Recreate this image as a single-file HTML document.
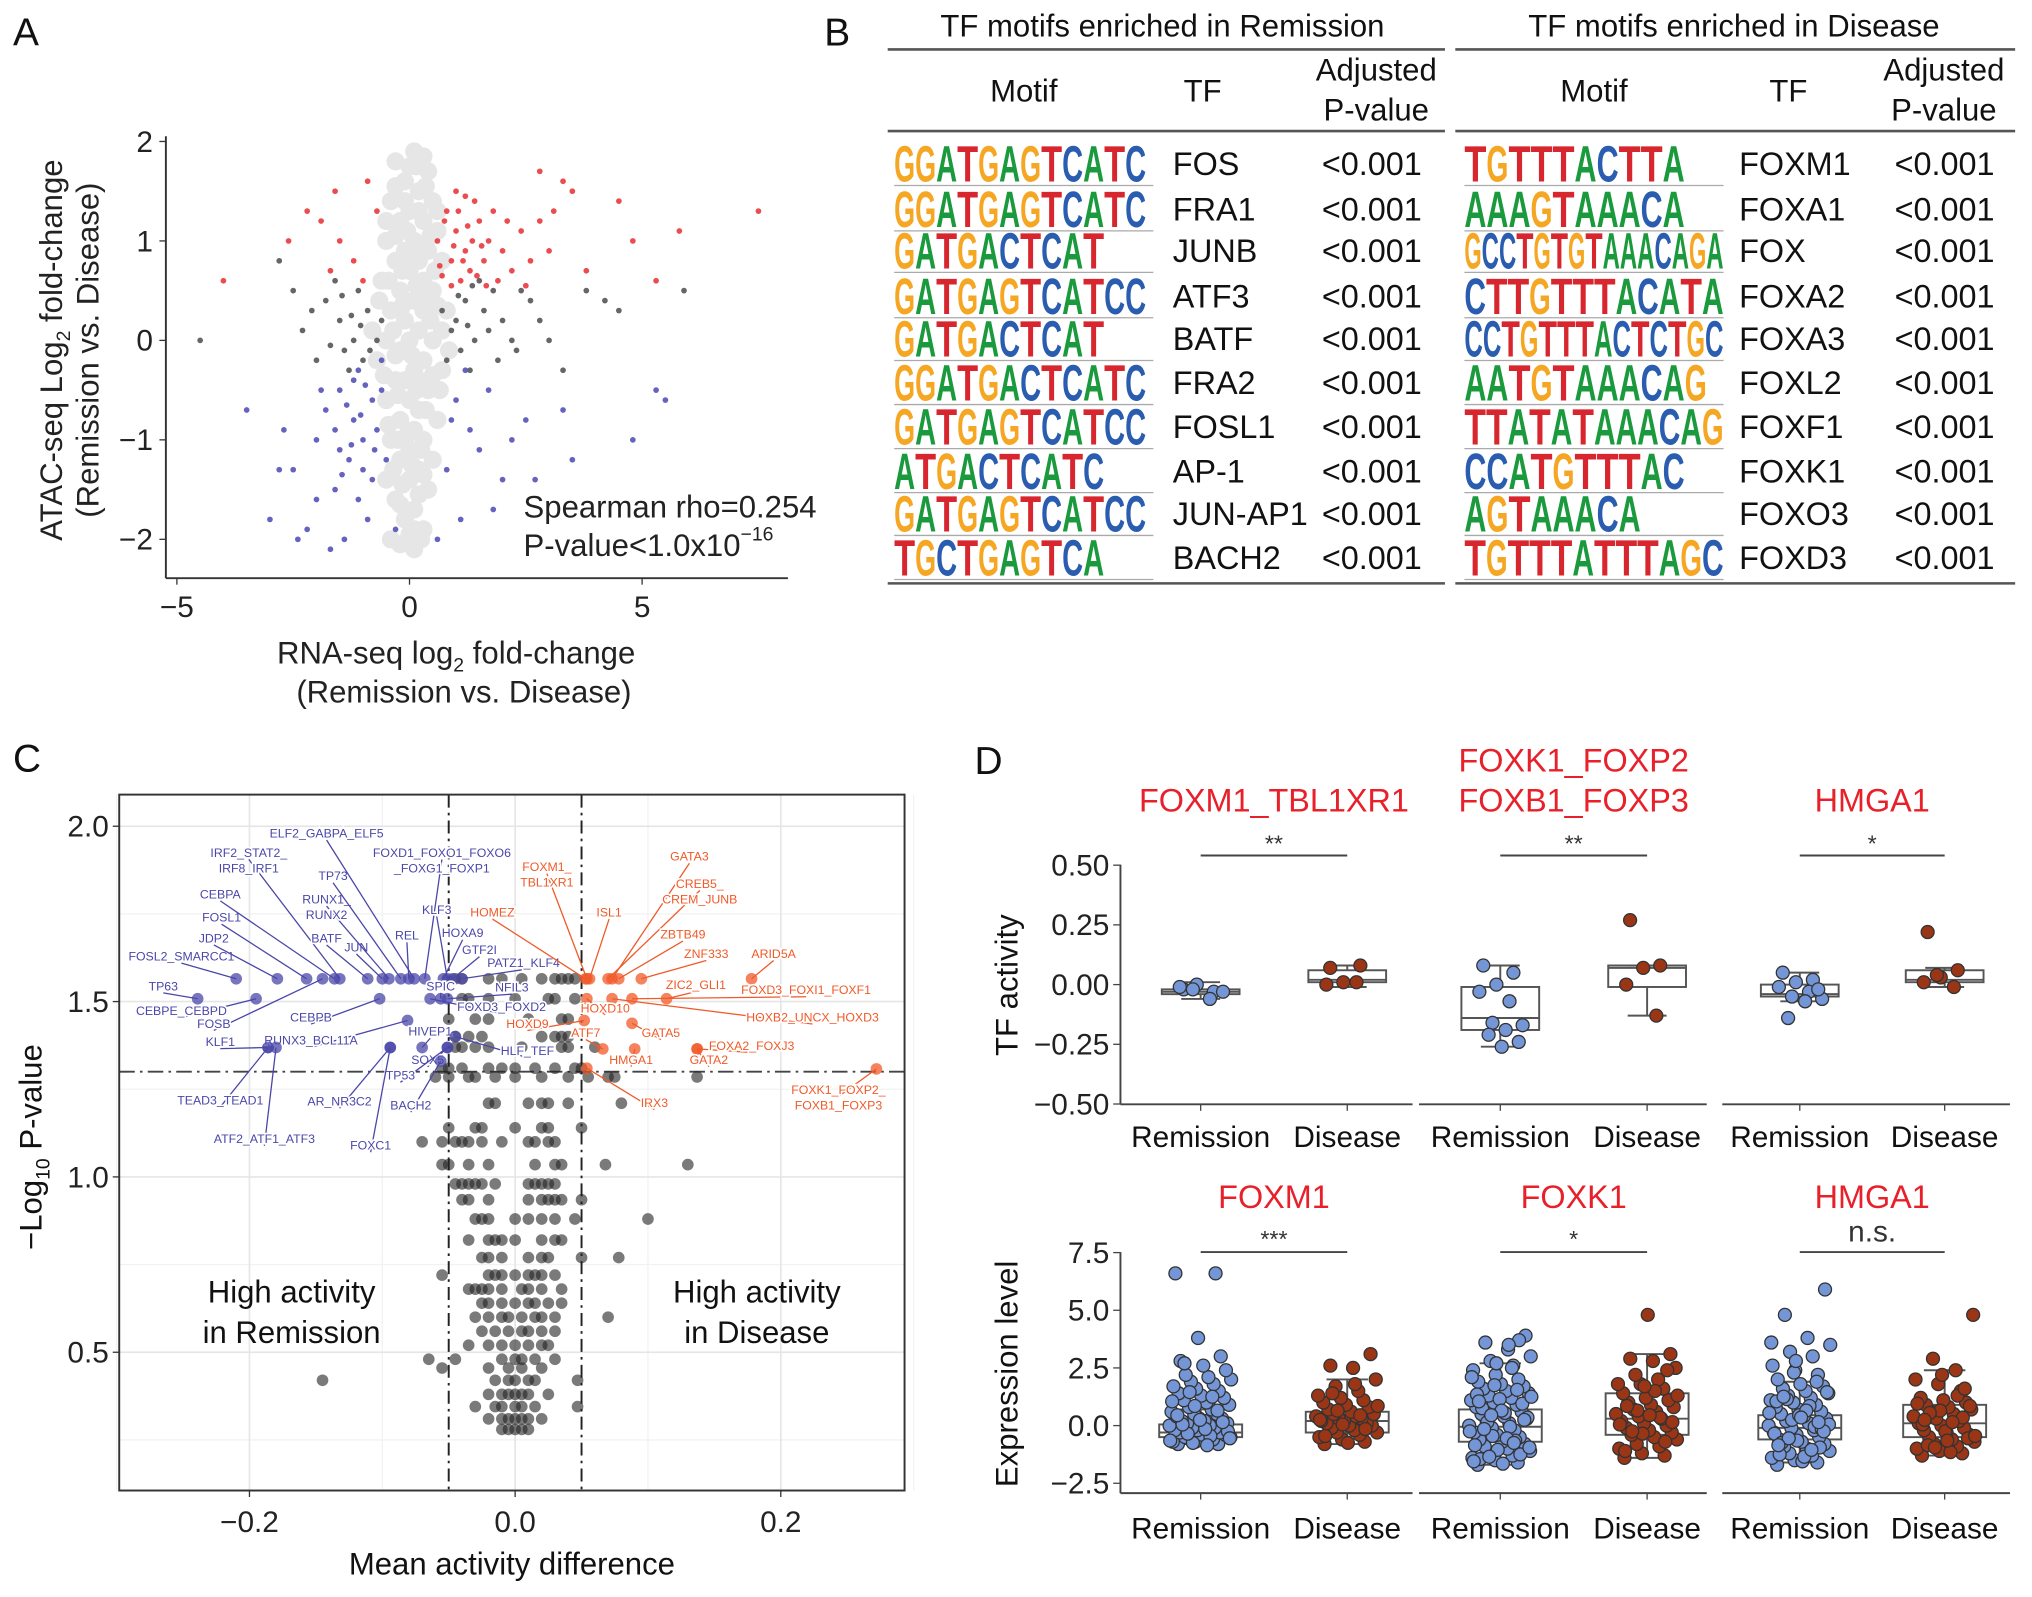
<!DOCTYPE html>
<html><head><meta charset="utf-8"><style>
html,body{margin:0;padding:0;background:#fff;}
svg{display:block;font-family:"Liberation Sans",Arial,sans-serif;}
</style></head><body>
<svg id="fig" width="2032" height="1597" viewBox="0 0 1568 1232" xmlns="http://www.w3.org/2000/svg">
<g font-size="30" fill="#111">
<text x="10" y="35">A</text>
<text x="636" y="35">B</text>
<text x="10" y="595">C</text>
<text x="752" y="597">D</text>
</g>
<g id="pa"></g>
<g id="pb"></g>
<g id="pc"></g>
<g id="pd"></g>
</svg>
<script>
// ---------- Panel A data ----------
const aRed=[[0.8,1.3],[1.0,1.1],[1.2,0.9],[1.5,1.2],[1.3,0.7],[0.9,0.8],[1.7,1.0],[2.0,0.9],[1.1,0.6],[0.7,0.65],[1.4,1.4],[1.8,1.3],[2.4,1.1],[2.8,1.2],[3.0,0.9],[3.5,1.5],[4.8,1.0],[5.8,1.1],[7.5,1.3],[3.3,1.6],[2.8,1.7],[1.0,1.5],[0.6,1.0],[1.6,0.8],[2.2,0.7],[0.9,0.55],[1.25,1.15],[1.55,0.95],[1.9,0.6],[2.6,0.8],[4.5,1.4],[3.8,0.7],[5.3,0.6],[-1.5,1.0],[-1.7,0.7],[-2.6,1.0],[-1.6,1.5],[-4,0.6],[-1.2,0.8],[-1.9,1.2],[-0.7,1.3],[-1.0,0.6],[-2.2,1.3],[-0.9,1.6],[1.15,0.8],[1.45,0.65],[0.75,1.2],[1.05,1.3],[1.35,1.0],[0.95,0.95],[1.65,0.55],[2.1,1.2],[3.1,1.3],[0.65,0.75],[1.2,1.45],[2.5,0.55]];
const aBlue=[[-1.5,-0.5],[-1.2,-0.8],[-1.0,-1.0],[-1.3,-1.2],[-0.8,-0.6],[-1.6,-1.5],[-2.0,-1.0],[-2.5,-1.3],[-1.1,-1.6],[-0.7,-0.9],[-0.9,-1.8],[-1.4,-2.0],[-2.2,-1.9],[-3.0,-1.8],[-3.5,-0.7],[-2.7,-0.9],[-1.8,-0.7],[-1.2,-0.4],[-0.6,-0.5],[-1.0,-1.3],[-1.5,-1.1],[-2.0,-1.6],[-2.4,-2.0],[-1.7,-2.1],[-0.5,-1.2],[-0.8,-1.4],[-1.1,-0.3],[-1.9,-0.5],[1.0,-0.6],[1.3,-0.9],[1.5,-1.1],[0.8,-1.3],[1.1,-1.8],[2.0,-1.4],[2.7,-1.4],[3.3,-0.7],[4.8,-1.0],[5.3,-0.5],[5.5,-0.6],[0.6,-2.0],[1.7,-0.5],[2.2,-1.0],[-0.3,-1.9],[-1.35,-0.65],[-1.05,-0.75],[-0.95,-0.45],[-1.25,-1.05],[-1.45,-1.35],[-0.75,-1.1],[1.2,-0.3],[0.9,-0.8],[1.8,-1.7],[-2.8,-1.3],[-1.6,-0.9],[-0.6,-0.2],[3.5,-1.2],[2.5,-0.8]];
const aDark=[[-1.5,0.2],[-1.2,0.0],[-1.0,-0.2],[-1.8,0.4],[-0.9,0.3],[-1.4,-0.1],[-2.0,-0.2],[-2.5,0.5],[-2.3,0.1],[-0.7,0.0],[-1.6,0.6],[-1.1,0.5],[-1.3,-0.3],[-2.8,0.8],[-4.5,0.0],[1.0,0.2],[1.2,0.4],[1.4,0.0],[1.6,0.3],[1.8,0.5],[1.1,-0.1],[0.9,0.1],[2.0,0.2],[2.3,-0.1],[2.6,0.4],[3.0,0.0],[1.3,-0.3],[1.5,0.6],[0.8,-0.2],[1.9,-0.2],[2.4,0.5],[3.8,0.5],[4.2,0.4],[4.5,0.3],[5.9,0.5],[2.8,0.2],[1.25,0.15],[1.05,0.45],[1.7,0.1],[-1.05,0.15],[-1.25,0.25],[-0.85,-0.1],[-1.7,-0.05],[-1.45,0.45],[-2.1,0.3],[0.7,0.3],[1.35,0.55],[2.2,0.0],[-0.6,0.2],[3.3,-0.3]];
const aGray=[[-0.3,1.8],[0.1,1.9],[0.4,1.7],[-0.1,1.6],[0.2,1.5],[-0.4,1.4],[0.5,1.4],[0,1.3],[-0.2,1.2],[0.3,1.2],[0.6,1.1],[-0.5,1.0],[0.1,1.0],[-0.1,0.9],[0.4,0.9],[-0.3,0.8],[0.2,0.8],[0.7,0.8],[0,0.7],[-0.6,0.6],[0.3,0.6],[-0.2,0.5],[0.5,0.5],[0.1,0.4],[-0.4,0.3],[0.3,0.3],[0.8,0.3],[-0.1,0.2],[0.2,0.1],[-0.5,0.0],[0,0.0],[0.5,0.0],[-0.2,-0.1],[0.3,-0.2],[-0.7,-0.2],[0.1,-0.3],[0.7,-0.3],[-0.3,-0.4],[0.4,-0.5],[0,-0.6],[-0.5,-0.6],[0.2,-0.7],[-0.2,-0.8],[0.6,-0.8],[0.1,-0.9],[-0.4,-1.0],[0.3,-1.0],[0,-1.1],[-0.2,-1.2],[0.5,-1.2],[0.2,-1.3],[-0.5,-1.4],[0,-1.4],[0.4,-1.5],[-0.3,-1.6],[0.1,-1.7],[-0.1,-1.8],[0.3,-1.9],[-0.4,-2.0],[0.1,-2.1],[-0.15,0.35],[0.15,0.55],[0.05,-0.15],[-0.05,1.1],[0.25,-1.1],[-0.25,-0.55],[0.35,1.55],[-0.35,0.1],[0.45,0.2],[-0.45,-0.85],[0.55,0.7],[0.65,-0.5],[-0.65,0.4],[0.15,1.75],[-0.15,-1.45],[0.05,0.85],[0.35,-0.7],[-0.05,-0.95],[0.25,0.95],[-0.3,1.55],[0.7,0.1],[0.85,-0.1],[-0.8,0.1],[0.0,-1.95],[0.2,-0.4],[-0.1,1.4],[0.2,1.3],[-0.3,1.05],[0.45,1.05],[-0.15,0.7],[0.35,0.45],[-0.45,0.6],[0.6,0.35],[-0.3,-0.15],[0.15,-0.5],[-0.1,-0.4],[0.5,-0.35],[-0.55,-0.35],[0.3,-1.35],[-0.25,-1.0],[0.05,-1.25],[-0.35,-1.3],[0.2,-1.55],[-0.2,-1.65],[0.1,-1.9],[-0.2,-2.05],[0.25,-2.0],[0.6,1.3],[-0.5,1.2],[0.0,1.75],[0.3,1.85]];
const aXTicks=[-5,0,5];
const aYTicks=[-2,-1,0,1,2];

// ---------- Panel C data ----------
const cBlackY=[1.565,1.508,1.45,1.40,1.37,1.31,1.285,1.21,1.14,1.10,1.035,0.98,0.935,0.88,0.82,0.77,0.72,0.68,0.64,0.6,0.56,0.52,0.48,0.455,0.42,0.38,0.345,0.31,0.28];
const cBlackX=[[-0.045,-0.04,-0.02,-0.01,0.005,0.02,0.03,0.035,0.04,0.045],[-0.04,-0.035,-0.02,0.0,0.025,0.03,0.045],[-0.05,-0.03,-0.02,0.01,0.035,0.04],[-0.045,-0.035,-0.025,0.02,0.03,0.035,0.04],[-0.045,-0.04,-0.03,-0.02,0.005,0.035,0.04,0.06],[-0.055,-0.05,-0.04,-0.02,-0.01,0.0,0.015,0.03,0.045,0.05],[-0.06,-0.05,-0.035,-0.03,-0.015,0.0,0.02,0.04,0.055,0.07,0.075,0.137],[-0.02,-0.015,0.01,0.02,0.025,0.04,0.08],[-0.05,-0.03,-0.025,0.0,0.02,0.025,0.05],[-0.07,-0.055,-0.045,-0.04,-0.035,-0.025,-0.01,0.01,0.015,0.025,0.03],[-0.055,-0.05,-0.035,-0.02,0.015,0.03,0.035,0.068,0.13],[-0.045,-0.04,-0.035,-0.03,-0.025,-0.015,0.01,0.015,0.02,0.025,0.03],[-0.04,-0.035,-0.02,0.01,0.02,0.025,0.03,0.035,0.05],[-0.03,-0.025,-0.02,0.0,0.01,0.02,0.03,0.045,0.1],[-0.035,-0.02,-0.015,-0.01,0.0,0.02,0.03,0.035],[-0.025,-0.02,-0.01,0.01,0.02,0.025,0.05,0.078],[-0.055,-0.02,-0.015,-0.01,0.0,0.01,0.015,0.02,0.03],[-0.035,-0.03,-0.025,-0.02,-0.01,0.005,0.01,0.02,0.035],[-0.025,-0.02,-0.01,0.0,0.01,0.015,0.025,0.035],[-0.03,-0.02,-0.01,-0.005,0.005,0.015,0.02,0.03,0.07],[-0.025,-0.015,-0.005,0.005,0.01,0.02,0.03],[-0.035,-0.02,-0.01,0.0,0.01,0.02,0.025],[-0.065,-0.045,-0.01,0.0,0.005,0.015,0.03],[-0.055,-0.02,-0.005,0.005,0.02],[-0.145,-0.015,-0.005,0.0,0.01,0.015,0.047],[-0.02,-0.01,-0.005,0.0,0.005,0.01,0.025],[-0.03,-0.015,-0.01,0.0,0.005,0.015,0.047],[-0.02,-0.01,-0.005,0.0,0.005,0.01,0.02],[-0.01,-0.005,0.0,0.005,0.01]];
const cBlueNames=["FOSL2_SMARCC1","TP63","JDP2","CEBPE_CEBPD","FOSL1","FOSB","KLF1","CEBPA","IRF2_STAT2_ IRF8_IRF1","BATF","JUN","RUNX1_ RUNX2","TP73","CEBPB","RUNX3_BCL11A","ELF2_GABPA_ELF5","FOXD1_FOXO1_FOXO6 _FOXG1_FOXP1","REL","FOXD3_FOXD2","HIVEP1","AR_NR3C2","SOX5","TP53","KLF3","HOXA9","GTF2I","PATZ1_KLF4","SPIC","NFIL3","BACH2","TEAD3_TEAD1","ATF2_ATF1_ATF3","FOXC1","HLF_TEF"];
const cBlueX=[-0.210,-0.239,-0.179,-0.195,-0.157,-0.145,-0.186,-0.136,-0.132,-0.111,-0.100,-0.095,-0.086,-0.102,-0.081,-0.076,-0.068,-0.08,-0.064,-0.070,-0.094,-0.051,-0.051,-0.051,-0.054,-0.047,-0.040,-0.056,-0.051,-0.056,-0.186,-0.18,-0.094,-0.045];
const cBlueY=[1.565,1.508,1.565,1.508,1.565,1.565,1.369,1.565,1.565,1.565,1.565,1.565,1.565,1.508,1.446,1.565,1.565,1.565,1.508,1.369,1.369,1.369,1.369,1.565,1.565,1.565,1.565,1.508,1.508,1.33,1.369,1.369,1.369,1.40];
const cRedNames=["HOMEZ","FOXM1_ TBL1XR1","ISL1","GATA3","CREB5_ CREM_JUNB","ZBTB49","ZNF333","ARID5A","ZIC2_GLI1","FOXD3_FOXI1_FOXF1","HOXB2_UNCX_HOXD3","HOXD10","HOXD9","GATA5","ATF7","FOXA2_FOXJ3","HMGA1","GATA2","IRX3","FOXK1_FOXP2_ FOXB1_FOXP3"];
const cRedX=[0.053,0.054,0.056,0.073,0.070,0.078,0.095,0.178,0.114,0.088,0.073,0.054,0.052,0.088,0.066,0.137,0.090,0.137,0.054,0.272];
const cRedY=[1.565,1.565,1.565,1.565,1.565,1.565,1.565,1.565,1.508,1.508,1.508,1.508,1.446,1.438,1.365,1.365,1.365,1.365,1.31,1.308];
const cXTicks=[-0.2,0.0,0.2];
const cYTicks=[0.5,1.0,1.5,2.0];

// ---------- Panel D data ----------
const dTitlesTop=["FOXM1_TBL1XR1","FOXK1_FOXP2 FOXB1_FOXP3","HMGA1"];
const dTitlesBot=["FOXM1","FOXK1","HMGA1"];
const dSigTop=["**","**","*"];
const dSigBot=["***","*","n.s."];
const dTopBox=[[[-0.04,-0.03,-0.02,-0.06,0.01],[0.01,0.02,0.06,-0.01,0.08]],[[-0.19,-0.14,-0.01,-0.26,0.08],[-0.01,0.07,0.08,-0.13,0.08]],[[-0.05,-0.04,0.0,-0.07,0.05],[0.01,0.02,0.06,-0.01,0.07]]];
const dTopPts=[[[-0.02,-0.03,0.0,-0.01,-0.06,-0.02,-0.03],[0.07,0.08,0.01,0.0,0.01]],[[0.08,0.05,0.0,-0.03,-0.07,-0.16,-0.17,-0.19,-0.21,-0.24,-0.26],[0.27,0.08,0.07,0.0,-0.13]],[[0.05,0.02,0.01,-0.01,-0.03,-0.05,-0.06,-0.07,-0.14,-0.02],[0.22,0.06,0.03,0.01,-0.01,0.04]]];
const dBotBox=[[[-0.5,-0.3,0.05,-0.8,0.7],[-0.3,0.2,0.6,-0.8,2.0]],[[-0.7,-0.05,0.7,-1.7,2.7],[-0.4,0.3,1.4,-1.4,3.1]],[[-0.6,-0.1,0.45,-1.6,1.9],[-0.5,0.1,0.9,-1.3,2.4]]];
const expFoxm1Rem=[-0.8,-0.8,-0.7,-0.7,-0.6,-0.6,-0.5,-0.5,-0.5,-0.4,-0.4,-0.3,-0.3,-0.2,-0.2,-0.1,-0.1,0,0,0.1,0.1,0.2,0.2,0.3,0.3,0.4,0.5,0.5,0.6,0.7,0.8,0.9,1.0,1.1,1.2,1.3,1.4,1.5,1.6,1.7,1.8,1.9,2.0,2.1,2.2,2.4,2.6,2.8,3.0,3.8,6.6,6.6,-0.75,-0.65,-0.45,-0.35,-0.25,-0.15,0.05,0.15,0.25,0.45,0.65,0.85,1.05,1.25,1.45,-0.55,-0.85,2.7];
const expFoxm1Dis=[-0.8,-0.7,-0.6,-0.5,-0.4,-0.3,-0.3,-0.2,-0.1,0,0,0.1,0.1,0.2,0.2,0.3,0.3,0.4,0.4,0.5,0.5,0.6,0.7,0.8,0.9,1.0,1.1,1.2,1.3,1.5,1.7,2.0,2.5,2.6,3.1,-0.75,-0.45,-0.15,0.05,0.25,0.45,0.65,0.85,1.8,1.4];
const expFoxk1Rem=[-1.7,-1.6,-1.5,-1.4,-1.3,-1.2,-1.1,-1.0,-0.9,-0.8,-0.7,-0.6,-0.5,-0.4,-0.3,-0.2,-0.1,0,0.1,0.2,0.3,0.4,0.5,0.6,0.7,0.8,0.9,1.0,1.1,1.2,1.3,1.4,1.5,1.6,1.7,1.8,1.9,2.0,2.2,2.4,2.6,2.8,3.0,3.3,3.6,3.9,-1.65,-1.45,-1.25,-1.05,-0.85,-0.65,-0.45,-0.25,-0.05,0.15,0.35,0.55,0.75,0.95,1.15,1.35,1.55,1.75,2.1,2.5,-1.35,-0.95,-0.55,-0.15,0.25,0.65,1.05,3.7,2.7,-1.55,-0.75,0.45,1.25,3.5];
const expFoxk1Dis=[-1.4,-1.3,-1.2,-1.0,-0.9,-0.8,-0.6,-0.5,-0.4,-0.3,-0.2,-0.1,0,0.1,0.2,0.3,0.4,0.5,0.6,0.7,0.8,0.9,1.0,1.1,1.2,1.4,1.6,1.8,1.8,2.0,2.2,2.5,2.8,2.9,3.1,4.8,-1.1,-0.7,-0.35,0.05,0.35,0.65,1.3,1.5,-0.25,0.15,0.45,0.85,2.4,1.7];
const expHmga1Rem=[-1.7,-1.6,-1.5,-1.4,-1.3,-1.2,-1.1,-1.0,-0.9,-0.8,-0.7,-0.6,-0.5,-0.4,-0.3,-0.2,-0.1,0,0.1,0.2,0.3,0.4,0.5,0.6,0.7,0.8,0.9,1.0,1.1,1.2,1.3,1.4,1.5,1.6,1.7,1.8,2.0,2.2,2.4,2.6,3.0,3.2,3.5,3.8,4.8,5.9,-1.55,-1.25,-0.95,-0.65,-0.35,-0.05,0.25,0.55,0.85,1.15,1.45,-1.35,-0.75,-0.15,0.45,1.05,1.9,2.3,3.6,-1.05,-0.55,0.05,0.65,1.25,-0.25,0.35,-0.85,0.15,2.8];
const expHmga1Dis=[-1.3,-1.2,-1.1,-1.0,-0.9,-0.8,-0.7,-0.6,-0.5,-0.4,-0.3,-0.2,-0.1,0,0.1,0.2,0.3,0.4,0.5,0.6,0.7,0.8,0.9,1.0,1.1,1.2,1.5,1.8,2.0,2.4,2.9,4.8,-1.15,-0.85,-0.55,-0.25,0.05,0.35,0.65,0.95,1.3,-0.95,-0.45,0.15,0.55,0.85,-0.65,0.25,1.6,2.2];
const dTopTicks=[0.5,0.25,0,-0.25,-0.5];
const dTopTickLabels=["0.50","0.25","0.00","\u22120.25","\u22120.50"];
const dBotTicks=[7.5,5,2.5,0,-2.5];
const dBotTickLabels=["7.5","5.0","2.5","0.0","\u22122.5"];

// ---------- Panel B data ----------
const bLeftTF=["FOS","FRA1","JUNB","ATF3","BATF","FRA2","FOSL1","AP-1","JUN-AP1","BACH2"];
const bLeftMotif=["GGATGAGTCATC","GGATGAGTCATC","GATGACTCAT","GATGAGTCATCC","GATGACTCAT","GGATGACTCATC","GATGAGTCATCC","ATGACTCATC","GATGAGTCATCC","TGCTGAGTCA"];
const bRightTF=["FOXM1","FOXA1","FOX","FOXA2","FOXA3","FOXL2","FOXF1","FOXK1","FOXO3","FOXD3"];
const bRightMotif=["TGTTTACTTA","AAAGTAAACA","GCCTGTGTAAACAGA","CTTGTTTACATA","CCTGTTTACTCTGC","AATGTAAACAG","TTATATAAACAG","CCATGTTTAC","AGTAAACA","TGTTTATTTAGC"];
const bPval=["<0.001","<0.001","<0.001","<0.001","<0.001","<0.001","<0.001","<0.001","<0.001","<0.001"];

const NS="http://www.w3.org/2000/svg";
function mk(tag,attrs,parent,txt){const e=document.createElementNS(NS,tag);for(const k in attrs)e.setAttribute(k,attrs[k]);if(txt!==undefined)e.textContent=txt;parent.appendChild(e);return e;}

// ===== Panel A =====
const pa=document.getElementById('pa');
const ax=x=>316+x*35.9, ay=y=>262.5-y*76.75;
function aPts(arr,fill,r,op,name){arr.forEach(p=>{const c=mk('circle',{cx:ax(p[0]),cy:ay(p[1]),r:r,fill:fill,'fill-opacity':op},pa);

});}
aPts(aGray,'#e6e6e6',7,1,'point-nonsignificant');
aPts(aDark,'#555',2.2,0.9,'point-discordant');
aPts(aRed,'#e8383c',2.2,0.9,'point-up-both');
aPts(aBlue,'#5552b8',2.2,0.9,'point-down-both');
let l=mk('line',{x1:128,y1:105,x2:128,y2:446,stroke:'#333','stroke-width':1.5},pa);

l=mk('line',{x1:128,y1:446,x2:608,y2:446,stroke:'#333','stroke-width':1.5},pa);

aYTicks.forEach(v=>{mk('line',{x1:123,x2:128,y1:ay(v),y2:ay(v),stroke:'#333'},pa);
const t=mk('text',{x:118,y:ay(v)+8,'text-anchor':'end','font-size':23,fill:'#222'},pa,v<0?'\u2212'+(-v):String(v));
});
aXTicks.forEach(v=>{mk('line',{x1:ax(v),x2:ax(v),y1:446,y2:451,stroke:'#333'},pa);
const t=mk('text',{x:ax(v),y:476,'text-anchor':'middle','font-size':23,fill:'#222'},pa,v<0?'\u2212'+(-v):String(v));
});
pa.insertAdjacentHTML('beforeend',`
<g font-size="24" fill="#222">
<text transform="translate(48,270) rotate(-90)" text-anchor="middle">ATAC-seq Log<tspan font-size="15" dy="6">2</tspan><tspan dy="-6"> fold-change</tspan></text>
<text transform="translate(76,270) rotate(-90)" text-anchor="middle">(Remission vs. Disease)</text>
<text x="352" y="512" text-anchor="middle">RNA-seq log<tspan font-size="15" dy="6">2</tspan><tspan dy="-6"> fold-change</tspan></text>
<text x="358" y="542" text-anchor="middle">(Remission vs. Disease)</text>
<text x="404" y="399">Spearman rho=0.254</text>
<text x="404" y="429">P-value&lt;1.0x10<tspan font-size="15" dy="-12">−16</tspan></text>
</g>`);

// ===== Panel B =====
const pb=document.getElementById('pb');
const colors={A:'#1a9a3c',C:'#2a5cb0',G:'#f5a623',T:'#d8262e'};
const rowsY=[126,161,193,228,261,295,329,363,396,430];
pb.insertAdjacentHTML('beforeend',`
<g font-size="24" fill="#111" stroke="none">
<text x="897" y="28" text-anchor="middle">TF motifs enriched in Remission</text>
<text x="1338" y="28" text-anchor="middle">TF motifs enriched in Disease</text>
<text x="790" y="78" text-anchor="middle">Motif</text>
<text x="928" y="78" text-anchor="middle">TF</text>
<text x="1062" y="62" text-anchor="middle">Adjusted</text>
<text x="1062" y="93" text-anchor="middle">P-value</text>
<text x="1230" y="78" text-anchor="middle">Motif</text>
<text x="1380" y="78" text-anchor="middle">TF</text>
<text x="1500" y="62" text-anchor="middle">Adjusted</text>
<text x="1500" y="93" text-anchor="middle">P-value</text>
</g>
<g stroke="#555" stroke-width="2">
<line x1="685" y1="38" x2="1115" y2="38"/><line x1="685" y1="101" x2="1115" y2="101"/><line x1="685" y1="450" x2="1115" y2="450"/>
<line x1="1123" y1="38" x2="1555" y2="38"/><line x1="1123" y1="101" x2="1555" y2="101"/><line x1="1123" y1="450" x2="1555" y2="450"/>
</g>`);
function logo(seq,x0,w,yc,name){const g=mk('g',{},pb);


const lw=w/seq.length;[...seq].forEach((ch,i)=>{mk('text',{x:0,y:0,transform:`translate(${x0+i*lw},${yc+14}) scale(1,1.32)`,'font-size':30,'font-weight':'bold',fill:colors[ch],textLength:lw,lengthAdjust:'spacingAndGlyphs'},g,ch);});
mk('line',{x1:x0,x2:x0+200,y1:yc+17,y2:yc+17,stroke:'#aaa','stroke-width':1},g);}
bLeftTF.forEach((tf,i)=>{const y=rowsY[i];logo(bLeftMotif[i],690,bLeftMotif[i].length*16.2,y,'motif-logo-'+tf.toLowerCase());
let t=mk('text',{x:905,y:y+9,'font-size':25,fill:'#111'},pb,tf);
t=mk('text',{x:1020,y:y+9,'font-size':25,fill:'#111'},pb,bPval[i]);});
bRightTF.forEach((tf,i)=>{const y=rowsY[i];logo(bRightMotif[i],1130,Math.min(200,bRightMotif[i].length*17),y,'motif-logo-'+tf.toLowerCase());
let t=mk('text',{x:1342,y:y+9,'font-size':25,fill:'#111'},pb,tf);
t=mk('text',{x:1462,y:y+9,'font-size':25,fill:'#111'},pb,bPval[i]);});

// ===== Panel C =====
const pc=document.getElementById('pc');
const cx=x=>397.5+x*1025, cy=y=>1178.6-y*270.6;
[-0.3,-0.1,0.1,0.3].forEach(v=>mk('line',{x1:cx(v),x2:cx(v),y1:613,y2:1150,stroke:'#f2f2f2','stroke-width':1},pc));
[0.25,0.75,1.25,1.75].forEach(v=>mk('line',{x1:92,x2:698,y1:cy(v),y2:cy(v),stroke:'#f2f2f2','stroke-width':1},pc));
cXTicks.forEach(v=>{mk('line',{x1:cx(v),x2:cx(v),y1:613,y2:1150,stroke:'#e6e6e6','stroke-width':1.3},pc);
mk('line',{x1:cx(v),x2:cx(v),y1:1150,y2:1155,stroke:'#333'},pc);
const t=mk('text',{x:cx(v),y:1182,'text-anchor':'middle','font-size':23,fill:'#222'},pc,(v<0?'\u2212':'')+Math.abs(v).toFixed(1));
});
cYTicks.forEach(v=>{mk('line',{x1:92,x2:698,y1:cy(v),y2:cy(v),stroke:'#e6e6e6','stroke-width':1.3},pc);
mk('line',{x1:87,x2:92,y1:cy(v),y2:cy(v),stroke:'#333'},pc);
const t=mk('text',{x:84,y:cy(v)+8,'text-anchor':'end','font-size':23,fill:'#222'},pc,v.toFixed(1));
});
l=mk('line',{x1:cx(-0.05),x2:cx(-0.05),y1:613,y2:1150,stroke:'#222','stroke-width':1.5,'stroke-dasharray':'10,4,2,4'},pc);

l=mk('line',{x1:cx(0.05),x2:cx(0.05),y1:613,y2:1150,stroke:'#222','stroke-width':1.5,'stroke-dasharray':'10,4,2,4'},pc);

l=mk('line',{x1:92,x2:698,y1:cy(1.3),y2:cy(1.3),stroke:'#444','stroke-width':1.5,'stroke-dasharray':'12,4,2,4'},pc);

cBlackY.forEach((y,i)=>cBlackX[i].forEach(x=>{const c=mk('circle',{cx:cx(x),cy:cy(y),r:4.5,fill:'#222','fill-opacity':0.6},pc);

}));
// label layout (annotation positions in px)
const blueLab=[[140,741],[126,764],[165,727],[140,783],[171,711],[165,793],[170,807],[170,693],[192,661],[252,727],[275,734],[252,697],[257,679],[240,788],[240,806],[252,646],[341,661],[314,725],[387,780],[332,799],[262,853],[330,821],[309,833],[337,705],[357,723],[370,736],[404,746],[340,764],[395,765],[317,856],[170,852],[204,882],[286,887],[407,814]];
const redLab=[[380,707],[422,672],[470,707],[532,664],[540,685],[527,724],[545,739],[597,739],[537,763],[622,767],[627,788],[467,781],[407,793],[510,800],[452,800],[580,810],[487,821],[547,821],[505,854],[647,844]];
function labels(names,xs,ys,lab,col,nm){names.forEach((n,i)=>{const px=cx(xs[i]),py=cy(ys[i]);const [tx,ty]=lab[i];
mk('line',{x1:px,y1:py,x2:tx,y2:ty+2,stroke:col,'stroke-width':1},pc);
const c=mk('circle',{cx:px,cy:py,r:4.5,fill:col,'fill-opacity':0.75},pc);


const parts=n.split(' ');parts.forEach((p,j)=>{const t=mk('text',{x:tx,y:ty+j*12,'text-anchor':'middle','font-size':9.5,fill:col,stroke:'#fff','stroke-width':2.5,'paint-order':'stroke'},pc,p);

});});}
labels(cBlueNames,cBlueX,cBlueY,blueLab,'#4a47a8','remission-tf');
labels(cRedNames,cRedX,cRedY,redLab,'#f05a28','disease-tf');
pc.insertAdjacentHTML('beforeend',`
<rect x="92" y="613" width="606" height="537" fill="none" stroke="#333" stroke-width="1.5"/>
<g font-size="24" fill="#111">
<text x="225" y="1005" text-anchor="middle">High activity</text>
<text x="225" y="1036" text-anchor="middle">in Remission</text>
<text x="584" y="1005" text-anchor="middle">High activity</text>
<text x="584" y="1036" text-anchor="middle">in Disease</text>
<text x="395" y="1215" text-anchor="middle">Mean activity difference</text>
<text transform="translate(32,885) rotate(-90)" text-anchor="middle">−Log<tspan font-size="15" dy="6">10</tspan><tspan dy="-6"> P-value</tspan></text>
</g>`);

// ===== Panel D =====
const pd=document.getElementById('pd');
const dty=v=>759.6-v*184.3, dby=v=>1099.9-v*17.8;
const centers=[[926.5,1039.6],[1157.7,1271],[1388.8,1500.6]];
const spans=[[864.6,1090],[1095,1317],[1329,1551]];
const cats=["Remission","Disease"];
const botPts=[[expFoxm1Rem,expFoxm1Dis],[expFoxk1Rem,expFoxk1Dis],[expHmga1Rem,expHmga1Dis]];
function jit(i,w){return (((i*7919+13)%97)/96-0.5)*2*w;}
function box(cxp,st,yf,hw,nm){const [q1,md,q3,lo,hi]=st;const g=mk('g',{stroke:'#555','stroke-width':1.5,fill:'none'},pd);


mk('line',{x1:cxp,x2:cxp,y1:yf(hi),y2:yf(q3)},g);mk('line',{x1:cxp,x2:cxp,y1:yf(q1),y2:yf(lo)},g);
mk('line',{x1:cxp-hw/2,x2:cxp+hw/2,y1:yf(hi),y2:yf(hi)},g);mk('line',{x1:cxp-hw/2,x2:cxp+hw/2,y1:yf(lo),y2:yf(lo)},g);
mk('rect',{x:cxp-hw,y:yf(q3),width:2*hw,height:Math.max(1,yf(q1)-yf(q3))},g);
mk('line',{x1:cxp-hw,x2:cxp+hw,y1:yf(md),y2:yf(md)},g);}
function panelAxes(yf,ticks,tickLabels,yTop,yBot,labY){
mk('line',{x1:864.6,x2:864.6,y1:yTop,y2:yBot,stroke:'#444','stroke-width':1.5},pd);
ticks.forEach((v,i)=>{mk('line',{x1:859,x2:864.6,y1:yf(v),y2:yf(v),stroke:'#444'},pd);
const t=mk('text',{x:856,y:yf(v)+8,'text-anchor':'end','font-size':23,fill:'#222'},pd,tickLabels[i]);
});
spans.forEach((s,k)=>{mk('line',{x1:s[0],x2:s[1],y1:yBot,y2:yBot,stroke:'#444','stroke-width':1.5},pd);
centers[k].forEach((c,j)=>{mk('line',{x1:c,x2:c,y1:yBot,y2:yBot+5,stroke:'#444'},pd);
const t=mk('text',{x:c,y:labY,'text-anchor':'middle','font-size':23,fill:'#111'},pd,cats[j]);
});});}
panelAxes(dty,dTopTicks,dTopTickLabels,667,852,885);
panelAxes(dby,dBotTicks,dBotTickLabels,966,1152,1187);
for(let k=0;k<3;k++){
 const [cr,cd]=centers[k];
 const tp=dTitlesTop[k].split(' ');tp.forEach((p,j)=>{const t=mk('text',{x:(cr+cd)/2,y:626-(tp.length-1-j)*31,'text-anchor':'middle','font-size':25,fill:'#e8202a'},pd,p);
 });
 let t=mk('text',{x:(cr+cd)/2,y:932,'text-anchor':'middle','font-size':25,fill:'#e8202a'},pd,dTitlesBot[k]);
 
 mk('line',{x1:cr,x2:cd,y1:660,y2:660,stroke:'#444','stroke-width':1.5},pd);
 t=mk('text',{x:(cr+cd)/2,y:657,'text-anchor':'middle','font-size':18,fill:'#333'},pd,dSigTop[k]);
 
 mk('line',{x1:cr,x2:cd,y1:966,y2:966,stroke:'#444','stroke-width':1.5},pd);
 t=mk('text',{x:(cr+cd)/2,y:dSigBot[k]==='n.s.'?958:962,'text-anchor':'middle','font-size':dSigBot[k]==='n.s.'?23:18,fill:'#333'},pd,dSigBot[k]);
 
 for(let j=0;j<2;j++){
  const c=centers[k][j],fill=j===0?'#7496d6':'#9a3516';
  box(c,dTopBox[k][j],dty,30,'tf-activity-box');
  dTopPts[k][j].forEach((v,i)=>{const p=mk('circle',{cx:c+jit(i,18),cy:dty(v),r:5,fill:fill,stroke:'#333','stroke-width':1},pd);
  
  });
  box(c,dBotBox[k][j],dby,32,'expression-box');
  botPts[k][j].forEach((v,i)=>{const p=mk('circle',{cx:c+jit(i,24),cy:dby(v),r:5,fill:fill,stroke:'#333','stroke-width':1},pd);
  
  });
 }
}
pd.insertAdjacentHTML('beforeend',`
<g font-size="24" fill="#111">
<text transform="translate(785,760) rotate(-90)" text-anchor="middle">TF activity</text>
<text transform="translate(785,1060) rotate(-90)" text-anchor="middle">Expression level</text>
</g>`);
</script>
</body></html>
